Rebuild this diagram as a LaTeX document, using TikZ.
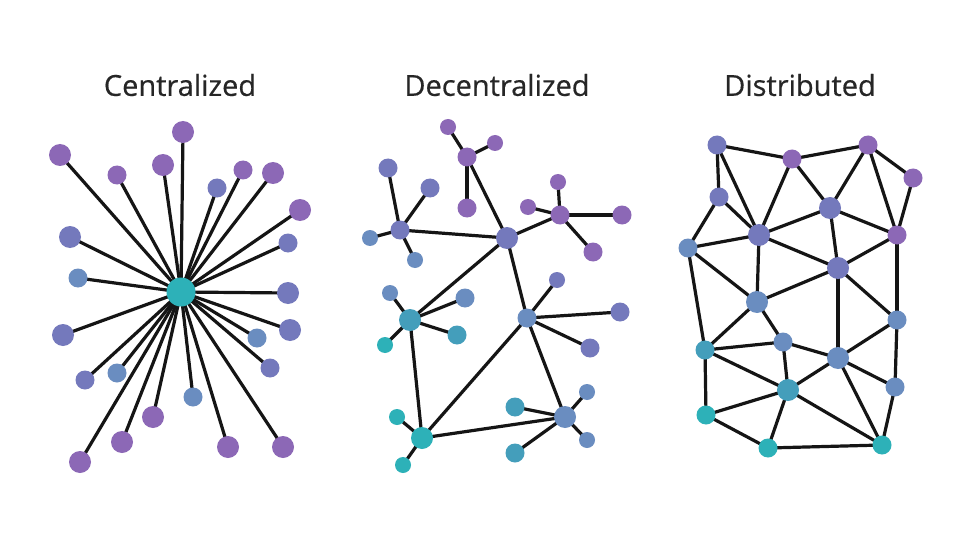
\documentclass[tikz,border=0pt]{standalone}
\usepackage{fontspec}
\setmainfont{Open Sans}
\newfontfamily\titlefont[FakeBold=0.5]{Open Sans}
\usetikzlibrary{backgrounds}
\definecolor{cP}{HTML}{8C68B6}
\definecolor{cBP}{HTML}{7479BC}
\definecolor{cB}{HTML}{6A8DC0}
\definecolor{cTB}{HTML}{449EBB}
\definecolor{cT}{HTML}{2DB1B8}
\definecolor{edgec}{HTML}{151515}
\tikzset{
  nd/.style={circle, inner sep=0pt, draw=none, fill=#1},
  sm/.style={minimum size=16pt},
  md/.style={minimum size=19pt},
  lg/.style={minimum size=22pt},
  xl/.style={minimum size=29pt},
  edge/.style={draw=edgec, line width=3.2pt},
  title/.style={font=\titlefont\fontsize{29}{32}\selectfont, text=black!85}
}
\begin{document}
\begin{tikzpicture}[x=1pt,y=-1pt]
\useasboundingbox (0,0) rectangle (960,540);
\node[title] (t1) at (180,85) {Centralized};
\node[title] (t2) at (497,85) {Decentralized};
\node[title] (t3) at (800,85) {Distributed};
% ---------- Centralized
\node[nd=cT,xl] (c0) at (181,292) {};
\node[nd=cP,lg] (c1) at (183,132) {};
\node[nd=cP,lg] (c2) at (60,155) {};
\node[nd=cP,md] (c3) at (117,175) {};
\node[nd=cP,lg] (c4) at (163,165) {};
\node[nd=cBP,md] (c5) at (217,188) {};
\node[nd=cP,md] (c6) at (243,170) {};
\node[nd=cP,lg] (c7) at (273,173) {};
\node[nd=cP,lg] (c8) at (300,210) {};
\node[nd=cBP,md] (c9) at (288,243) {};
\node[nd=cBP,lg] (c10) at (70,237) {};
\node[nd=cB,md] (c11) at (78,278) {};
\node[nd=cBP,lg] (c12) at (288,293) {};
\node[nd=cBP,lg] (c13) at (63,335) {};
\node[nd=cBP,lg] (c14) at (290,330) {};
\node[nd=cB,md] (c15) at (257,338) {};
\node[nd=cBP,md] (c16) at (270,368) {};
\node[nd=cBP,md] (c17) at (85,380) {};
\node[nd=cB,md] (c18) at (117,373) {};
\node[nd=cB,md] (c19) at (193,397) {};
\node[nd=cP,lg] (c20) at (153,417) {};
\node[nd=cP,lg] (c21) at (122,442) {};
\node[nd=cP,lg] (c22) at (228,447) {};
\node[nd=cP,lg] (c23) at (283,447) {};
\node[nd=cP,lg] (c24) at (80,462) {};
% ---------- Decentralized
\node[nd=cP,md] (A) at (467,157) {};
\node[nd=cP,sm] (A1) at (448,127) {};
\node[nd=cP,sm] (A2) at (495,143) {};
\node[nd=cP,md] (A3) at (467,208) {};
\node[nd=cBP,md] (B) at (400,230) {};
\node[nd=cBP,md] (B1) at (388,168) {};
\node[nd=cBP,md] (B2) at (430,188) {};
\node[nd=cB,sm] (B3) at (370,238) {};
\node[nd=cB,sm] (B4) at (415,260) {};
\node[nd=cBP,lg] (C) at (507,238) {};
\node[nd=cP,md] (D) at (560,215) {};
\node[nd=cP,sm] (D1) at (558,182) {};
\node[nd=cP,sm] (D2) at (528,207) {};
\node[nd=cP,md] (D3) at (622,215) {};
\node[nd=cP,md] (D4) at (593,252) {};
\node[nd=cTB,lg] (E) at (410,320) {};
\node[nd=cB,sm] (E1) at (390,293) {};
\node[nd=cB,md] (E2) at (465,298) {};
\node[nd=cTB,md] (E3) at (457,335) {};
\node[nd=cT,sm] (E4) at (385,345) {};
\node[nd=cB,md] (F) at (527,318) {};
\node[nd=cBP,sm] (F1) at (557,280) {};
\node[nd=cBP,md] (F2) at (620,312) {};
\node[nd=cBP,md] (F3) at (590,348) {};
\node[nd=cT,lg] (G) at (422,438) {};
\node[nd=cT,sm] (G1) at (397,417) {};
\node[nd=cT,sm] (G2) at (403,465) {};
\node[nd=cB,lg] (H) at (565,417) {};
\node[nd=cB,sm] (H1) at (587,392) {};
\node[nd=cTB,md] (H2) at (515,407) {};
\node[nd=cB,sm] (H3) at (587,440) {};
\node[nd=cTB,md] (H4) at (515,453) {};
% ---------- Distributed
\node[nd=cBP,md] (n1) at (717,145) {};
\node[nd=cP,md] (n2) at (792,159) {};
\node[nd=cP,md] (n3) at (868,145) {};
\node[nd=cP,md] (n4) at (913,178) {};
\node[nd=cBP,md] (n5) at (719,197) {};
\node[nd=cBP,lg] (n6) at (830,208) {};
\node[nd=cBP,lg] (n7) at (759,235) {};
\node[nd=cP,md] (n8) at (897,235) {};
\node[nd=cB,md] (n9) at (688,248) {};
\node[nd=cBP,lg] (n10) at (838,268) {};
\node[nd=cB,lg] (n11) at (757,302) {};
\node[nd=cB,md] (n12) at (897,320) {};
\node[nd=cTB,md] (n13) at (705,350) {};
\node[nd=cB,md] (n14) at (783,342) {};
\node[nd=cB,lg] (n15) at (838,358) {};
\node[nd=cB,md] (n16) at (895,387) {};
\node[nd=cTB,lg] (n17) at (788,390) {};
\node[nd=cT,md] (n18) at (706,415) {};
\node[nd=cT,md] (n19) at (768,448) {};
\node[nd=cT,md] (n20) at (882,445) {};
\begin{pgfonlayer}{background}
\fill[white] (0,0) rectangle (960,540);
\foreach \i in {1,...,24} \draw[edge] (c0.center) -- (c\i.center);
\foreach \a/\b in {A/A1,A/A2,A/A3,A/C,B/B1,B/B2,B/B3,B/B4,B/C,C/D,D/D1,D/D2,D/D3,D/D4,
  C/E,C/F,E/E1,E/E2,E/E3,E/E4,E/G,G/G1,G/G2,G/F,G/H,F/H,F/F1,F/F2,F/F3,H/H1,H/H2,H/H3,H/H4}
  \draw[edge] (\a.center) -- (\b.center);
\foreach \a/\b in {1/2,2/3,3/4,1/5,1/7,2/7,2/6,3/6,3/8,4/8,5/9,5/7,9/7,7/6,6/8,6/10,7/10,8/10,
  9/11,9/13,7/11,11/10,10/15,10/12,8/12,11/13,11/14,13/14,14/15,14/17,13/17,13/18,15/17,15/12,
  15/16,15/20,12/16,16/20,17/18,17/19,17/20,18/19,19/20}
  \draw[edge] (n\a.center) -- (n\b.center);
\end{pgfonlayer}
\end{tikzpicture}
\end{document}
